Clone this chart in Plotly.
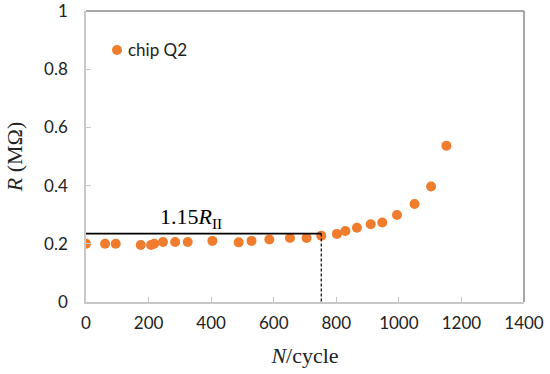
import plotly.graph_objects as go

cycles = [0, 61, 95, 175, 208, 218, 246, 285, 325, 404, 488, 529, 586, 652, 705, 752,
          802, 829, 866, 910, 947, 994, 1050, 1103, 1152]
resistance = [0.200, 0.200, 0.200, 0.196, 0.196, 0.200, 0.206, 0.206, 0.206, 0.210, 0.205,
              0.210, 0.215, 0.220, 0.220, 0.228, 0.234, 0.244, 0.255, 0.267, 0.273, 0.299,
              0.337, 0.397, 0.537]
series_name = "chip Q2"
threshold_cycle = 752
threshold_r = 0.235
x_ticks = [0, 200, 400, 600, 800, 1000, 1200, 1400]
y_ticks = [0, 0.2, 0.4, 0.6, 0.8, 1]
y_ticktext = ["0", "0.2", "0.4", "0.6", "0.8", "1"]

orange = "#F07D2E"
sans = "Lato, Open Sans, sans-serif"
tick_font = dict(family=sans, size=17, color="#222")
serif = "Liberation Serif, Times New Roman, serif"

fig = go.Figure()
fig.add_trace(go.Scatter(x=cycles, y=resistance, mode="markers", name=series_name,
                         marker=dict(color=orange, size=10), showlegend=False))
fig.add_trace(go.Scatter(x=[0, threshold_cycle], y=[threshold_r, threshold_r], mode="lines",
                         line=dict(color="black", width=1.6), showlegend=False, hoverinfo="skip"))
fig.add_trace(go.Scatter(x=[threshold_cycle, threshold_cycle], y=[threshold_r, 0], mode="lines",
                         line=dict(color="black", width=1.2, dash="3px,2px"), showlegend=False,
                         hoverinfo="skip"))

fig.add_annotation(x=335, y=threshold_r, yshift=0, xref="x", yref="y", showarrow=False,
                   yanchor="bottom", text="1.15<i>R</i><sub>II</sub>",
                   font=dict(family=serif, size=22, color="black"))

# legend (marker + label)
fig.add_shape(type="circle", xref="paper", yref="paper", xsizemode="pixel", ysizemode="pixel",
              xanchor=(117 - 86) / 438, yanchor=(302 - 50) / 291, x0=-5, x1=5, y0=-5, y1=5,
              fillcolor=orange, line=dict(width=0))
fig.add_annotation(x=(126 - 86) / 438, y=(302 - 50) / 291, xref="paper", yref="paper",
                   xanchor="left", yanchor="middle", showarrow=False, text=series_name,
                   font=dict(family=sans, size=17, color="#222"))

# top and right plot border
fig.add_shape(type="line", xref="paper", yref="paper", x0=0, x1=1, y0=1, y1=1,
              line=dict(color="#8a8a8a", width=1.5))
fig.add_shape(type="line", xref="paper", yref="paper", x0=1, x1=1, y0=0, y1=1,
              line=dict(color="#8a8a8a", width=1.5))

fig.update_layout(
    width=550, height=374,
    margin=dict(l=86, r=26, t=11, b=72),
    paper_bgcolor="white", plot_bgcolor="white",
    showlegend=False,
    xaxis=dict(range=[0, 1400], tickvals=x_ticks, showgrid=False, zeroline=False,
               showline=True, linecolor="#c8c8c8", linewidth=1.5,
               ticks="inside", ticklen=5, tickcolor="#c8c8c8",
               tickfont=tick_font, ticklabelstandoff=5, automargin=False,
               ticklabeloverflow="allow",
               title=dict(text="<i>N</i>/cycle", font=dict(family=serif, size=22, color="#222"),
                          standoff=15)),
    yaxis=dict(range=[0, 1], tickvals=y_ticks, ticktext=y_ticktext,
               showgrid=False, zeroline=False,
               showline=True, linecolor="#c8c8c8", linewidth=1.5,
               ticks="inside", ticklen=5, tickcolor="#c8c8c8",
               tickfont=tick_font, ticklabelstandoff=13, automargin=False,
               ticklabeloverflow="allow",
               title=dict(text="<i>R</i> (MΩ)", font=dict(family=serif, size=22, color="#222"),
                          standoff=15)),
)

fig.write_html("out.html", config={"displayModeBar": False},
               post_script="document.body.style.margin='0';")
